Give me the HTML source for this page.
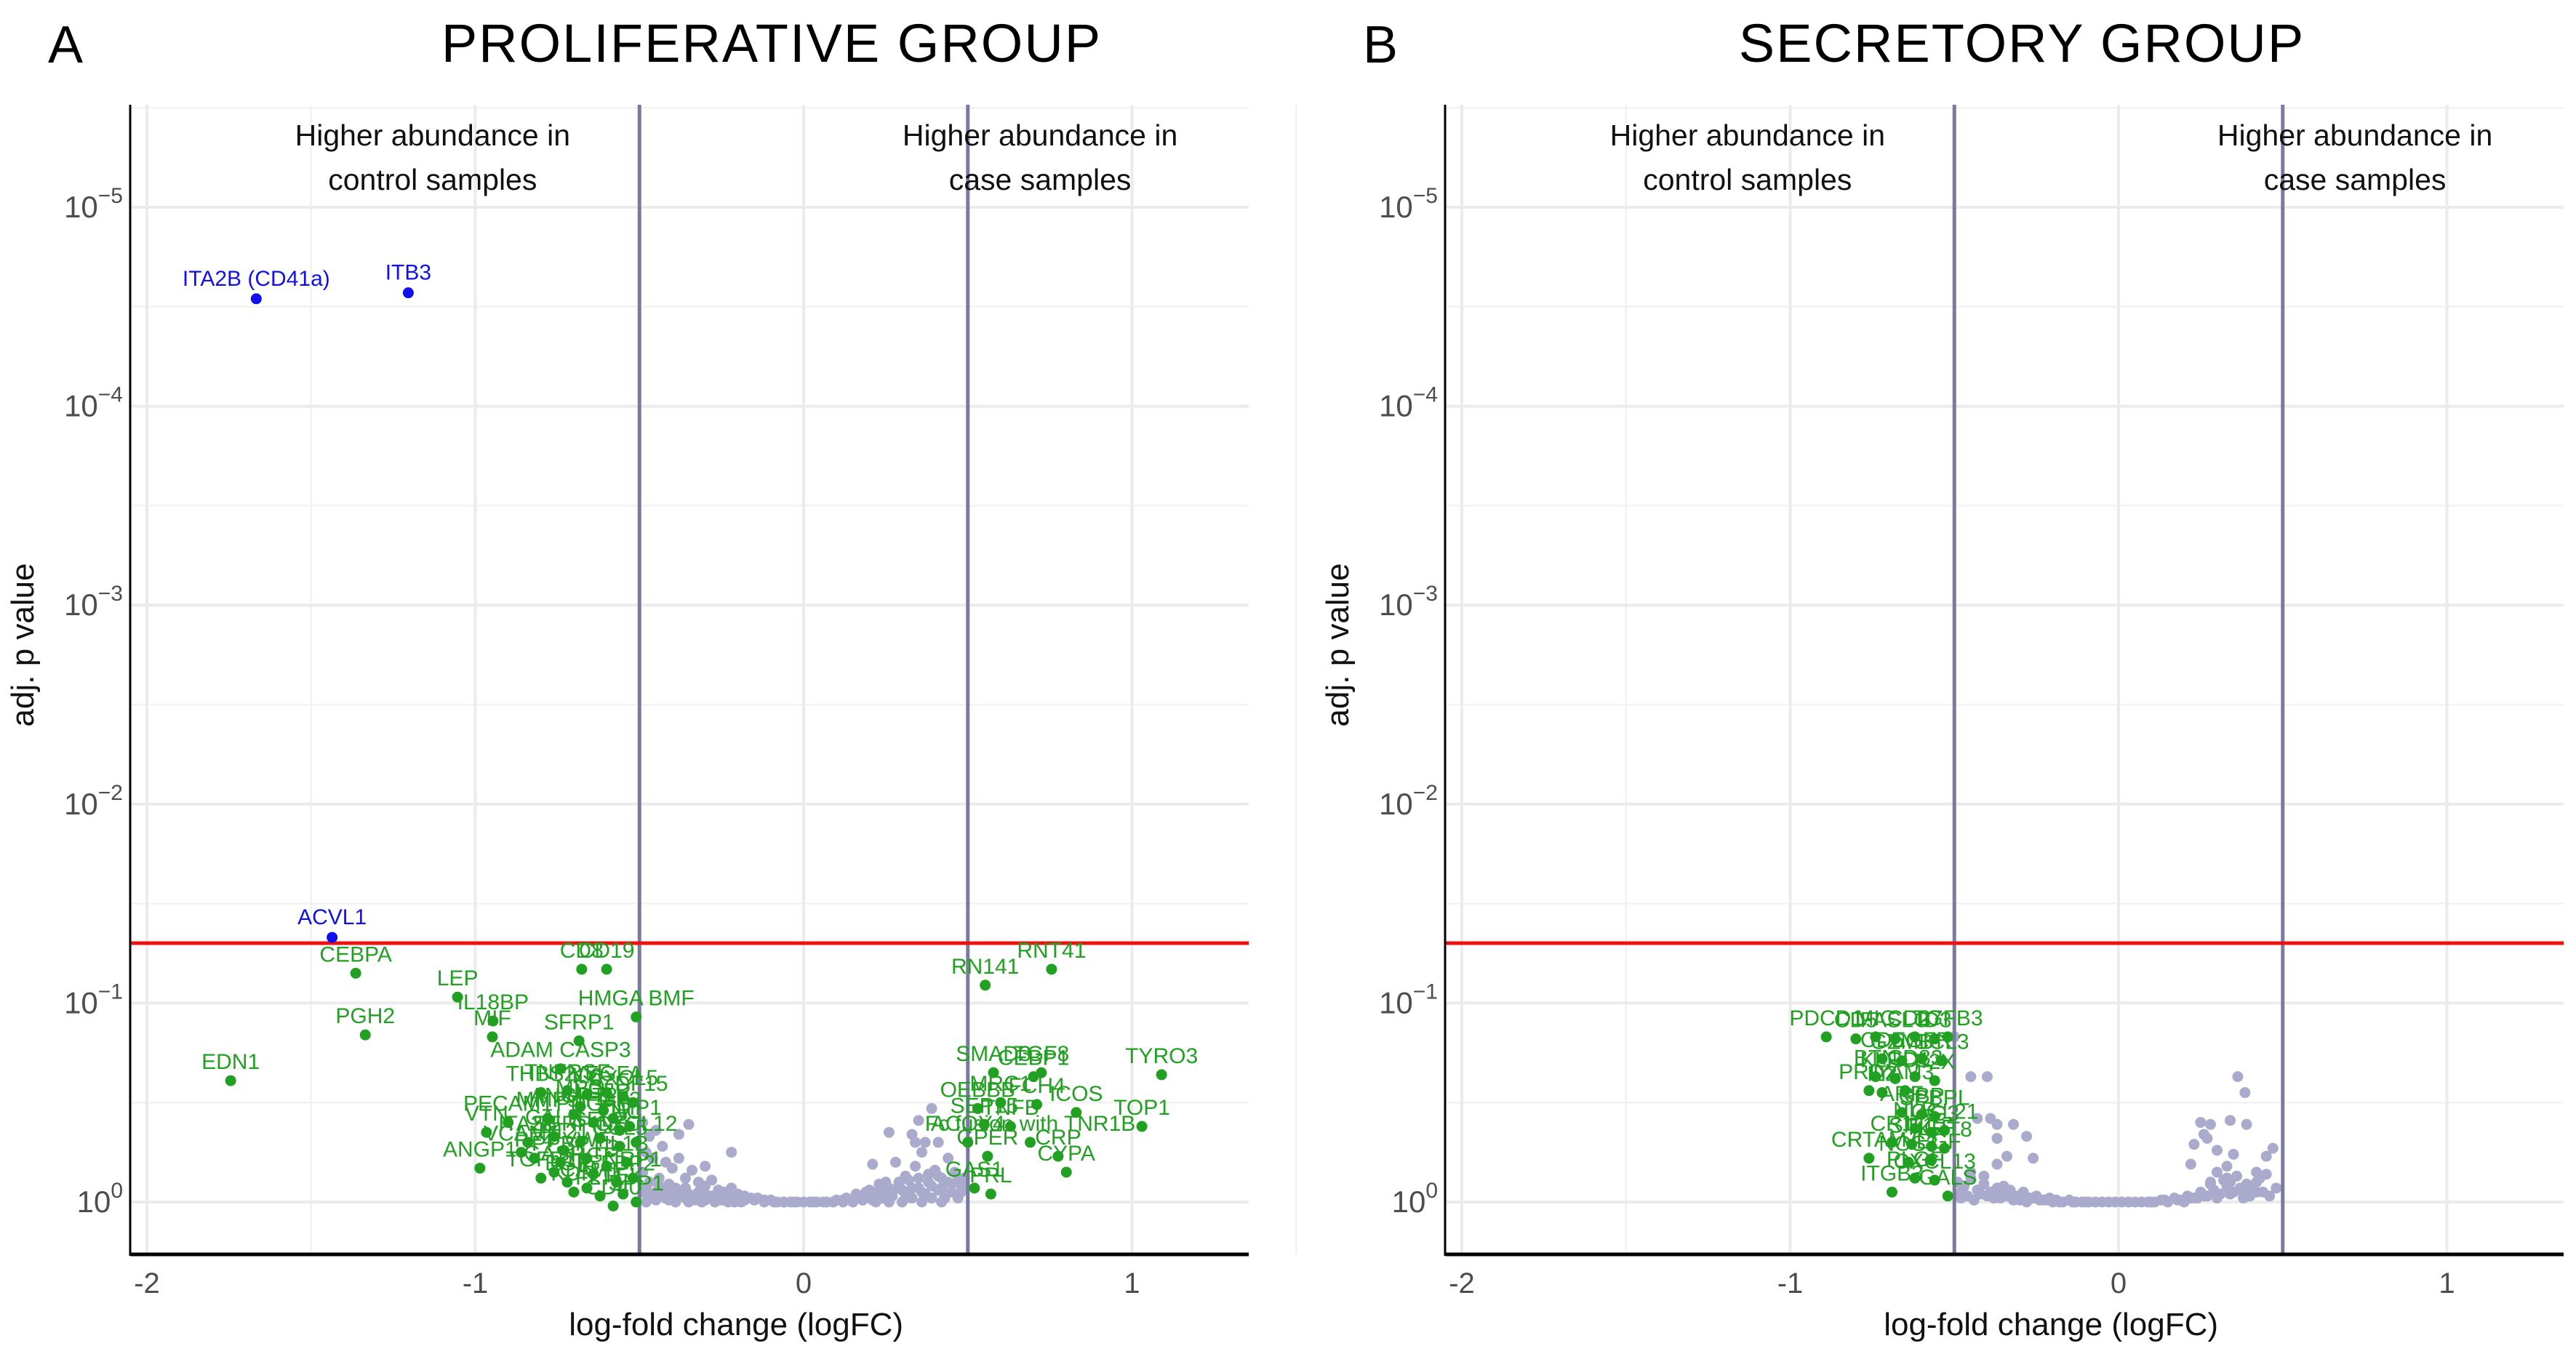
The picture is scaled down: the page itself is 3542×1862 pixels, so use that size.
<!DOCTYPE html>
<html><head><meta charset="utf-8"><style>
html,body{margin:0;padding:0;background:#fff;}
svg{display:block;font-family:"Liberation Sans",sans-serif;}
</style></head><body>
<svg id="fig" width="3542" height="1862" viewBox="0 0 3542 1862" xmlns="http://www.w3.org/2000/svg"></svg>
<script>
// ---------- DATA (logFC, -log10 adj p) ----------
const blueA_fc=[-1.667,-1.204,-1.436];
const blueA_L=[4.54,4.57,1.33];
const blueA_lab=["ITA2B (CD41a)","ITB3","ACVL1"];

const greenA_fc=[-1.364,-1.745,-1.054,-0.946,-0.948,-1.335,-0.676,-0.60,-0.51,-0.684,-0.74,-0.966,-0.986,
 0.553,0.755,1.09,0.578,0.724,0.70,0.83,1.03,0.60,0.71,0.53,0.55,0.63,0.69,0.50,0.56,0.775,0.80,0.52,0.57,
 -0.80,-0.72,-0.66,-0.60,-0.55,-0.52,-0.78,-0.70,-0.64,-0.58,-0.53,-0.84,-0.76,-0.68,-0.62,-0.56,-0.51,-0.82,-0.74,-0.66,-0.60,-0.54,-0.80,-0.72,-0.64,-0.57,-0.52,-0.70,-0.62,-0.55,-0.51,-0.58,-0.66,-0.76,-0.86,-0.90,-0.68,-0.61,-0.56,-0.73];
const greenA_L=[1.15,0.61,1.03,0.91,0.83,0.84,1.17,1.17,0.93,0.81,0.67,0.35,0.17,
 1.09,1.17,0.64,0.65,0.65,0.63,0.45,0.38,0.50,0.49,0.47,0.39,0.38,0.30,0.30,0.23,0.23,0.15,0.07,0.04,
 0.55,0.56,0.54,0.55,0.53,0.50,0.42,0.44,0.40,0.42,0.38,0.30,0.33,0.30,0.32,0.28,0.30,0.22,0.20,0.22,0.18,0.20,0.12,0.10,0.14,0.10,0.12,0.05,0.03,0.04,0.00,-0.02,0.07,0.15,0.25,0.40,0.48,0.46,0.36,0.26];
const greenA_lab=["CEBPA","EDN1","LEP","IL18BP","MIF","PGH2","CD8","CD19","HMGA BMF","SFRP1","ADAM CASP3","VTN","ANGP1",
 "RN141","RNT41","TYRO3","SMAD3","TGF8","CEBP1","ICOS","TOP1","MRC1","FCH4","OEBBB","SEP15","TNFB","Fc fusion with TNR1B","ACOY4","GPER","CRP","CYPA","GAS1","PRL",
 "THBS2","TNFRSF","IL6","VEGFA","CXCL5","GDF15","MMP9","ANGPT2","PDGFB","FGF2","TIMP1","ITA2B","CALR","SERPINE","SELP","CCL5","CXCL12","PF4","PPBP","VWF","F3","IL1B","TGFB1","EGF","HGF","IGFBP2","NRP1","KDR","FLT1","TEK","SPP1","CD40","ICAM1","GASP","VCAM1","PECAM1","MPO","LDLR","TNC","P121"];

const grayA_fc=[-0.49,-0.47,-0.45,-0.43,-0.48,-0.46,-0.42,-0.40,-0.38,-0.36,-0.34,-0.32,-0.30,-0.28,-0.26,-0.24,-0.22,-0.20,-0.18,-0.16,-0.14,-0.12,-0.10,-0.08,-0.06,-0.04,-0.02,-0.44,-0.41,-0.39,-0.37,-0.35,-0.33,-0.31,-0.29,-0.27,-0.25,-0.23,-0.21,-0.19,-0.47,-0.45,-0.43,-0.49,-0.49,-0.47,-0.41,-0.39,-0.35,-0.31,-0.27,-0.35,-0.38,-0.22,-0.30,
 0.39,0.35,0.26,0.33,0.34,0.37,0.41,0.36,0.21,0.28,0.34,0.44,0.46,0.48,0.42,0.40,0.38,0.31,0.29,0.25,0.23,0.19,0.16,0.13,0.10,0.07,0.04,0.02,0.45,0.43,0.41,0.39,0.37,0.35,0.33,0.31,0.27,0.24,0.21,0.18,0.15,0.12,0.09,0.47,0.49,0.30,0.36,0.42,0.26,0.22,0.0,
 -0.48,-0.46,-0.44,-0.42,-0.40,-0.38,-0.36,-0.34,-0.32,-0.30,-0.28,-0.26,-0.24,-0.22,-0.20,-0.48,-0.45,-0.42,-0.39,-0.36,-0.33,-0.30,-0.27,-0.24,-0.21,-0.18,-0.15,-0.12,-0.09,-0.06,-0.03,
 0.03,0.06,0.09,0.12,0.15,0.18,0.21,0.24,0.27,0.30,0.33,0.36,0.39,0.42,0.45,0.48,0.20,0.23,0.26,0.29,0.32,0.35,0.38,0.41,0.44,0.47,0.25,0.31,0.37,0.43];
const grayA_L=[0.40,0.33,0.36,0.28,0.25,0.22,0.20,0.17,0.22,0.12,0.16,0.10,0.08,0.11,0.06,0.05,0.07,0.04,0.03,0.02,0.02,0.01,0.01,0.0,0.0,0.0,0.0,0.12,0.09,0.07,0.05,0.04,0.03,0.02,0.02,0.01,0.01,0.0,0.0,0.0,0.10,0.05,0.03,0.15,0.05,0.02,0.01,0.0,0.0,0.0,0.0,0.39,0.34,0.25,0.18,
 0.47,0.41,0.35,0.34,0.30,0.30,0.30,0.25,0.19,0.20,0.18,0.22,0.15,0.08,0.12,0.16,0.10,0.13,0.08,0.10,0.06,0.05,0.04,0.02,0.01,0.0,0.0,0.0,0.05,0.03,0.06,0.02,0.04,0.07,0.02,0.04,0.03,0.02,0.01,0.01,0.0,0.0,0.0,0.02,0.12,0.0,0.0,0.0,0.0,0.0,0.0,
 0.07,0.04,0.08,0.05,0.06,0.04,0.07,0.03,0.05,0.04,0.03,0.04,0.02,0.03,0.02,0.00,0.01,0.02,0.01,0.02,0.01,0.01,0.00,0.01,0.01,0.01,0.01,0.00,0.00,0.00,0.00,
 0.00,0.00,0.00,0.01,0.01,0.02,0.03,0.04,0.05,0.06,0.07,0.05,0.08,0.07,0.09,0.05,0.06,0.09,0.07,0.10,0.11,0.12,0.14,0.13,0.10,0.11,0.02,0.02,0.03,0.02];

const greenB_fc=[-0.89,-0.80,-0.74,-0.68,-0.62,-0.56,-0.52,-0.72,-0.66,-0.60,-0.54,-0.74,-0.68,-0.62,-0.56,-0.76,-0.72,-0.65,-0.66,-0.60,-0.56,-0.62,-0.57,-0.53,-0.69,-0.63,-0.57,-0.53,-0.76,-0.64,-0.57,-0.62,-0.56,-0.69,-0.52];
const greenB_L=[0.83,0.82,0.83,0.82,0.83,0.82,0.83,0.72,0.71,0.72,0.71,0.63,0.62,0.63,0.61,0.56,0.55,0.56,0.45,0.44,0.43,0.37,0.35,0.36,0.30,0.29,0.28,0.27,0.22,0.20,0.21,0.12,0.11,0.05,0.03];
const greenB_lab=["PDCD1","CD5","MIC","FASLG","CD27","ID3","TGFB3","CD6","GZMB","EGFR","CCL3","BTN","KLRD1","CD83","P2X","PRDX","IL2","YAM3","ARF","GBP","SPBPL","NLR","LAG3","CCL21","CR1","SIT1","HGF","KRT8","CRTAM","NOS3","VEGF","PLGF","CXCL13","ITGB3","GALS"];

const grayB_fc=[-0.45,-0.40,-0.50,-0.43,-0.39,-0.37,-0.32,-0.37,-0.28,-0.34,-0.26,-0.37,
 0.363,0.385,0.34,0.39,0.25,0.28,0.26,0.27,0.23,0.30,0.35,0.47,0.45,0.33,0.22,0.42,0.45,0.42,
 -0.49,-0.47,-0.45,-0.43,-0.41,-0.39,-0.37,-0.35,-0.33,-0.31,-0.29,-0.27,-0.25,-0.23,-0.21,-0.19,-0.17,-0.15,-0.13,-0.11,-0.09,-0.07,-0.05,-0.03,-0.01,
 0.01,0.03,0.05,0.07,0.09,0.11,0.13,0.15,0.17,0.19,0.21,0.23,0.25,0.27,0.29,0.31,0.33,0.35,0.37,0.39,0.41,0.43,
 -0.48,-0.44,-0.40,-0.36,-0.32,-0.28,-0.24,-0.20,0.20,0.24,0.28,0.32,0.36,0.40,0.44,0.30,0.34,0.38,
 -0.48,-0.46,-0.42,-0.38,-0.34,-0.30,-0.26,-0.22,-0.18,-0.14,-0.10,0.10,0.14,0.18,0.22,0.26,0.30,0.34,0.38,0.42,0.46,0.48,-0.45,-0.41,-0.35,-0.29,0.28,0.33,0.40];
const grayB_L=[0.63,0.63,0.83,0.42,0.42,0.39,0.39,0.32,0.33,0.23,0.22,0.19,
 0.63,0.55,0.41,0.39,0.40,0.39,0.34,0.32,0.29,0.26,0.24,0.27,0.23,0.18,0.19,0.15,0.14,0.10,
 0.10,0.08,0.12,0.06,0.09,0.05,0.07,0.04,0.06,0.03,0.04,0.02,0.03,0.01,0.02,0.01,0.0,0.01,0.0,0.0,0.0,0.0,0.0,0.0,0.0,
 0.0,0.0,0.0,0.0,0.0,0.0,0.01,0.0,0.02,0.01,0.03,0.02,0.05,0.03,0.06,0.04,0.08,0.05,0.07,0.09,0.06,0.12,
 0.02,0.01,0.03,0.02,0.01,0.0,0.01,0.0,0.0,0.02,0.09,0.11,0.13,0.03,0.05,0.15,0.10,0.02,
 0.05,0.03,0.04,0.02,0.03,0.01,0.02,0.01,0.00,0.00,0.00,0.00,0.01,0.01,0.02,0.03,0.02,0.04,0.04,0.05,0.03,0.07,0.15,0.13,0.08,0.05,0.10,0.12,0.08];

const xTicks=[-2,-1,0,1];
const yTicks=[0,1,2,3,4,5];
const pThresh=0.05;
const fcThresh=[-0.5,0.5];

// ---------- LAYOUT ----------
const NS="http://www.w3.org/2000/svg";
const svg=document.getElementById('fig');
function mk(tag,attrs,parent){const e=document.createElementNS(NS,tag);for(const k in attrs)e.setAttribute(k,attrs[k]);(parent||svg).appendChild(e);return e;}

function panel(off,titleX,letter,title,greenFc,greenL,greenLab,grayFc,grayL,blueFc,blueL,blueLab,key){
  const x0=1105+off, unit=451.5, y0=1653, dec=273.6;
  const left=179+off, right=1717+off, top=144, bottom=1725;
  const X=v=>x0+v*unit, Y=L=>y0-L*dec;
  const g=mk('g',{});
  
  
  for(let v=-1.5;v<=1.5;v+=1){const l=mk('line',{x1:X(v),x2:X(v),y1:top,y2:bottom,stroke:'#f2f2f2','stroke-width':2.5},g);
    }
  for(let L=0.5;L<=5.5;L+=1){const l=mk('line',{x1:left,x2:right,y1:Y(L),y2:Y(L),stroke:'#f2f2f2','stroke-width':2.5},g);
    }
  xTicks.forEach(v=>{const l=mk('line',{x1:X(v),x2:X(v),y1:top,y2:bottom,stroke:'#ebebeb','stroke-width':4},g);
    
    const t=mk('text',{x:X(v),y:1778,'text-anchor':'middle','font-size':40,fill:'#4d4d4d'},g);t.textContent=(v<0?'-':'')+Math.abs(v);
    });
  yTicks.forEach(L=>{const l=mk('line',{x1:left,x2:right,y1:Y(L),y2:Y(L),stroke:'#ebebeb','stroke-width':4},g);
    
    const t=mk('text',{x:left-10,y:Y(L)+14,'text-anchor':'end','font-size':42,fill:'#4d4d4d'},g);
    
    const a=mk('tspan',{},t);a.textContent='10';
    const b=mk('tspan',{dy:-20,'font-size':30},t);b.textContent=(L===0?'0':'\u2212'+L);});
  grayFc.forEach((v,i)=>{const c=mk('circle',{cx:X(v),cy:Y(grayL[i]),r:7.5,fill:'#aaaacc'},g);
    });
  fcThresh.forEach(v=>{const l=mk('line',{x1:X(v),x2:X(v),y1:top,y2:bottom,stroke:'#7a7a9e','stroke-width':5},g);
    });
  const rl=mk('line',{x1:left,x2:right,y1:Y(-Math.log10(pThresh)),y2:Y(-Math.log10(pThresh)),stroke:'#ee1111','stroke-width':5},g);
  
  greenFc.forEach((v,i)=>{const c=mk('circle',{cx:X(v),cy:Y(greenL[i]),r:7.5,fill:'#22a022'},g);
    
    const t=mk('text',{x:X(v),y:Y(greenL[i])-16,'text-anchor':'middle','font-size':30,fill:'#22a022'},g);t.textContent=greenLab[i];
    });
  blueFc.forEach((v,i)=>{const c=mk('circle',{cx:X(v),cy:Y(blueL[i]),r:7.5,fill:'#1010ee'},g);
    
    const t=mk('text',{x:X(v),y:Y(blueL[i])-18,'text-anchor':'middle','font-size':30,fill:'#1010ee'},g);t.textContent=blueLab[i];
    });
  const ax=mk('line',{x1:left,x2:left,y1:top,y2:bottom+2,stroke:'#000','stroke-width':3},g);
  
  const bx=mk('line',{x1:left,x2:right,y1:bottom,y2:bottom,stroke:'#000','stroke-width':5},g);
  
  [[X(-1.13),'control samples'],[X(0.72),'case samples']].forEach(([cx,s])=>{
    const t1=mk('text',{x:cx,y:200,'text-anchor':'middle','font-size':41,fill:'#111'},g);t1.textContent='Higher abundance in';
    
    const t2=mk('text',{x:cx,y:261,'text-anchor':'middle','font-size':41,fill:'#111'},g);t2.textContent=s;
    });
  const tt=mk('text',{x:titleX,y:85,'text-anchor':'middle','font-size':74,fill:'#000','letter-spacing':2},g);tt.textContent=title;
  
  const lt=mk('text',{x:66+off,y:86,'font-size':72,fill:'#000'},g);lt.textContent=letter;
  
  const xt=mk('text',{x:X(-0.25)+20,y:1836,'text-anchor':'middle','font-size':44,fill:'#111'},g);xt.textContent='log-fold change (logFC)';
  
  const yt=mk('text',{x:0,y:0,'text-anchor':'middle','font-size':44,fill:'#111',transform:`translate(${46+off},${Y(2.8)}) rotate(-90)`},g);yt.textContent='adj. p value';
  
}
panel(0,1061,'A','PROLIFERATIVE GROUP',greenA_fc,greenA_L,greenA_lab,grayA_fc,grayA_L,blueA_fc,blueA_L,blueA_lab,'proliferative');
panel(1808,2780,'B','SECRETORY GROUP',greenB_fc,greenB_L,greenB_lab,grayB_fc,grayB_L,[],[],[],'secretory');
</script>
</body></html>
